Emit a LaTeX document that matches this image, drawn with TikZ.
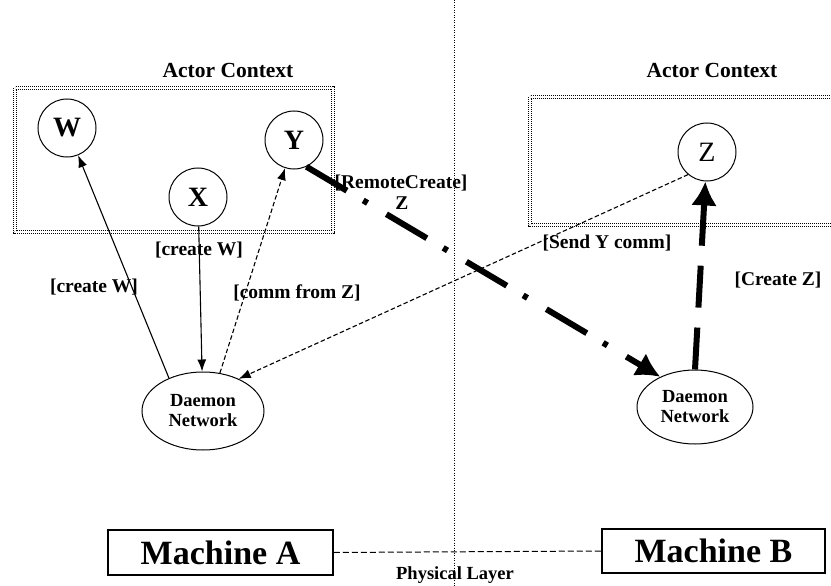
\documentclass[tikz,border=0pt]{standalone}
\usepackage{fontspec}
\setmainfont{Liberation Serif}
\usetikzlibrary{arrows.meta,shapes.geometric}
\begin{document}
\begin{tikzpicture}[x=1pt,y=-1pt,
  actor/.style={circle,draw,line width=1pt,minimum size=58pt,inner sep=0pt,font=\fontsize{28}{30}\selectfont\bfseries},
  daemon/.style={ellipse,draw,line width=1pt,inner sep=0pt,align=center,font=\fontsize{18.5}{20}\selectfont\bfseries},
  lbl/.style={font=\fontsize{19.5}{21}\selectfont\bfseries,inner sep=0pt},
  ctxlbl/.style={font=\fontsize{21.5}{23}\selectfont\bfseries,inner sep=0pt},
  ctx/.style={draw,double,double distance=1.4pt,line width=1.1pt,dash pattern=on 1.2pt off 0.8pt},
  machine/.style={draw,line width=1.5pt,inner sep=0pt,font=\fontsize{34}{36}\selectfont\bfseries},
  thinarrow/.style={line width=1.1pt,-{Latex[length=12pt,width=9pt]}},
  thindash/.style={thinarrow,dash pattern=on 4.5pt off 2.5pt},
  thickarrow/.style={line width=6pt,-{Latex[length=24pt,width=26pt]}}
]
\useasboundingbox (0,0) rectangle (831,586);
\clip (0,0) rectangle (831,586);

% separator between machines
\coordinate (vt) at (454,0);
\coordinate (vb) at (454,586);
\draw[line width=1pt,dash pattern=on 1pt off 1.5pt] (vt) -- (vb);

% actor contexts
\draw[ctx] (15,88) rectangle (333,232);
\draw[ctx] (530,97) rectangle (845,225);
\node[ctxlbl] (acA) at (228,70) {Actor Context};
\node[ctxlbl] (acB) at (712,70) {Actor Context};

% actors
\node[actor] (W) at (67,128) {W};
\node[actor] (X) at (198,197) {X};
\node[actor] (Y) at (294,140) {Y};
\node[actor,font=\fontsize{28}{30}\selectfont] (Z) at (707,152) {Z};

% daemons
\node[daemon,minimum width=122pt,minimum height=78pt] (dl) at (203,411) {Daemon\\Network};
\node[daemon,minimum width=116pt,minimum height=74pt] (dr) at (695,407) {Daemon\\Network};

% machines
\node[machine,minimum width=225pt,minimum height=45pt] (mA) at (220.5,552.5) {Machine A};
\node[machine,minimum width=223pt,minimum height=44pt] (mB) at (713.5,551) {Machine B};
\draw[line width=1pt,dash pattern=on 6pt off 3pt] (mA.east) -- (mB.west);
\node[lbl,font=\fontsize{18.5}{20}\selectfont\bfseries] (phys) at (455,575) {Physical Layer};

% connectors
\draw[thinarrow] (dl.136) -- (W);
\draw[thinarrow] (X) -- (dl);
\draw[thindash] (dl.66) -- (Y);
\draw[thindash] (Z.230) -- (dl.42);
\draw[thickarrow,dash pattern=on 47pt off 19pt on 5pt off 22pt] (Y.-65) -- (dr.139);
\draw[thickarrow,dash pattern=on 42pt off 20pt] (dr.north) -- (Z);

% labels
\node[lbl] (lcw1) at (199,250) {[create W]};
\node[lbl] (lcw2) at (94,287) {[create W]};
\node[lbl] (lcomm) at (297,293) {[comm from Z]};
\node[lbl] (lrc) at (401,183) {[RemoteCreate]};
\node[lbl] (lrcz) at (402,203) {Z};
\node[lbl] (lsend) at (607,243) {[Send Y comm]};
\node[lbl] (lcz) at (778,280) {[Create Z]};
\end{tikzpicture}
\end{document}
